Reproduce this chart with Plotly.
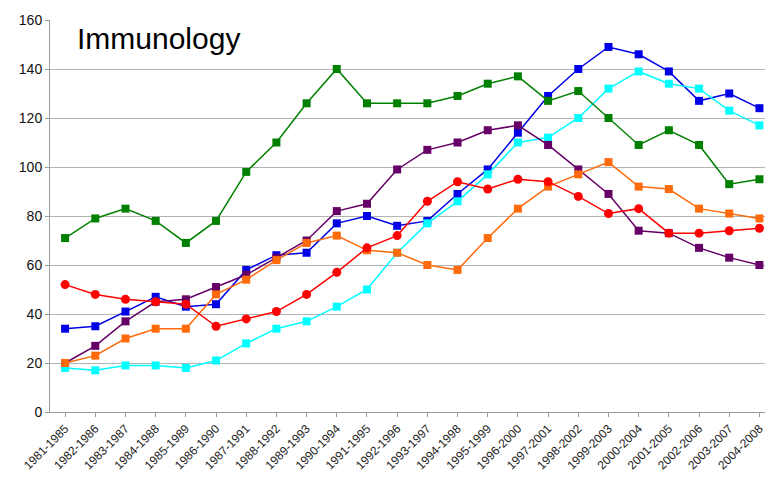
import plotly.graph_objects as go

periods = ["1981-1985", "1982-1986", "1983-1987", "1984-1988", "1985-1989", "1986-1990",
           "1987-1991", "1988-1992", "1989-1993", "1990-1994", "1991-1995", "1992-1996",
           "1993-1997", "1994-1998", "1995-1999", "1996-2000", "1997-2001", "1998-2002",
           "1999-2003", "2000-2004", "2001-2005", "2002-2006", "2003-2007", "2004-2008"]

blue = [34, 35, 41, 47, 43, 44, 58, 64, 65, 77, 80, 76, 78, 89, 99, 114, 129, 140, 149, 146, 139, 127, 130, 124]
cyan = [18, 17, 19, 19, 18, 21, 28, 34, 37, 43, 50, 65, 77, 86, 97, 110, 112, 120, 132, 139, 134, 132, 123, 117]
green = [71, 79, 83, 78, 69, 78, 98, 110, 126, 140, 126, 126, 126, 129, 134, 137, 127, 131, 120, 109, 115, 109, 93, 95]
purple = [20, 27, 37, 45, 46, 51, 56, 63, 70, 82, 85, 99, 107, 110, 115, 117, 109, 99, 89, 74, 73, 67, 63, 60]
orange = [20, 23, 30, 34, 34, 48, 54, 62, 69, 72, 66, 65, 60, 58, 71, 83, 92, 97, 102, 92, 91, 83, 81, 79]
red = [52, 48, 46, 45, 44, 35, 38, 41, 48, 57, 67, 72, 86, 94, 91, 95, 94, 88, 81, 83, 73, 73, 74, 75]

y_ticks = [0, 20, 40, 60, 80, 100, 120, 140, 160]

series = [
    ("blue", blue, "#0000e6", "square", 8),
    ("cyan", cyan, "#00ffff", "square", 8),
    ("green", green, "#008000", "square", 8),
    ("purple", purple, "#660066", "square", 8),
    ("orange", orange, "#ff6a0a", "square", 8),
    ("red", red, "#ff0000", "circle", 9),
]

fig = go.Figure()
for name, vals, col, sym, sz in series:
    fig.add_trace(go.Scatter(
        x=list(range(len(periods))), y=vals, name=name, mode="lines+markers",
        line=dict(color=col, width=1.5),
        marker=dict(color=col, symbol=sym, size=sz, line=dict(width=0)),
        cliponaxis=False,
    ))

# page body has an 8px default margin, so the figure is sized to fit the window
fig.update_layout(
    width=765, height=469,
    margin=dict(l=42, r=0, t=12, b=65, autoexpand=False),
    paper_bgcolor="white", plot_bgcolor="white",
    showlegend=False,
    font=dict(family="Liberation Sans, Arial, sans-serif", color="#222"),
    xaxis=dict(
        tickmode="array", tickvals=list(range(len(periods))), ticktext=periods,
        range=[-0.5, 23.45], tickangle=-45, tickfont=dict(size=12, color="#222"),
        showgrid=False, showline=True, linecolor="#999", linewidth=1,
        ticks="outside", ticklen=4, tickcolor="#999", zeroline=False,
        automargin=False,
    ),
    yaxis=dict(
        tickvals=y_ticks, range=[0, 160], tickfont=dict(size=14, color="#111"),
        showgrid=True, gridcolor="#b4b4b4", gridwidth=1,
        showline=True, linecolor="#999", linewidth=1,
        ticks="outside", ticklen=4, tickcolor="#999", zeroline=False,
        automargin=False,
    ),
    annotations=[dict(
        text="Immunology", x=0.035, y=1.0, xref="paper", yref="paper",
        xanchor="left", yanchor="top", showarrow=False,
        font=dict(size=30, color="#000", family="Liberation Sans, Arial, sans-serif"),
    )],
)

fig.write_html("out.html")
